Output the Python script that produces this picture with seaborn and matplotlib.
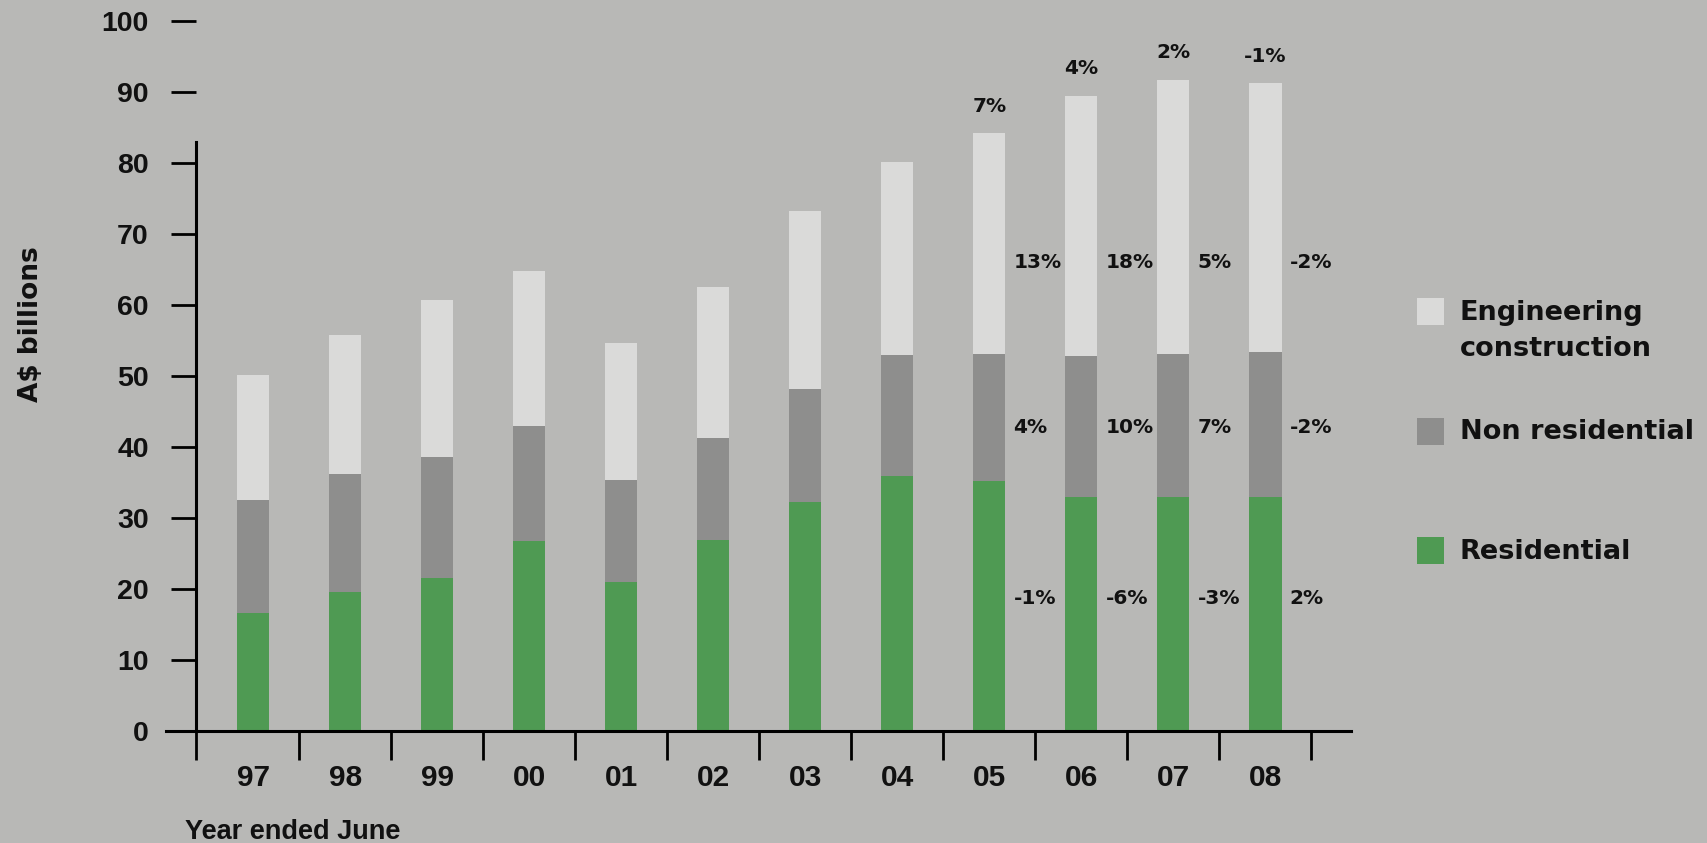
import matplotlib
matplotlib.use("Agg")
import matplotlib.pyplot as plt
from matplotlib.patches import Rectangle
import seaborn as sns
import pandas as pd
import numpy as np

years = ["97", "98", "99", "00", "01", "02", "03", "04", "05", "06", "07", "08"]
residential = [16.6, 19.6, 21.5, 26.7, 21.0, 26.9, 32.3, 35.9, 35.2, 33.0, 32.9, 33.0]
non_residential = [15.9, 16.6, 17.1, 16.2, 14.4, 14.4, 15.9, 17.0, 17.9, 19.8, 20.2, 20.4]
engineering = [17.7, 19.6, 22.1, 21.9, 19.2, 21.2, 25.0, 27.2, 31.1, 36.7, 38.6, 37.8]

pct_years = ["05", "06", "07", "08"]
total_pct = ["7%", "4%", "2%", "-1%"]
eng_pct = ["13%", "18%", "5%", "-2%"]
nonres_pct = ["4%", "10%", "7%", "-2%"]
res_pct = ["-1%", "-6%", "-3%", "2%"]

series_names = ["Engineering\nconstruction", "Non residential", "Residential"]

BG = "#b8b8b6"
C_ENG = "#dadad9"
C_NON = "#8e8e8d"
C_RES = "#4f9a53"

sns.set_theme(style="ticks")
plt.rcParams["font.family"] = ["Liberation Sans", "DejaVu Sans"]
WIDE = ["DejaVu Sans"]

df = pd.DataFrame({
    "year": years,
    "res": residential,
    "non": non_residential,
    "eng": engineering,
})
df["mid"] = df["res"] + df["non"]
df["top"] = df["mid"] + df["eng"]

W, H = 1708, 843
fig = plt.figure(figsize=(W / 100, H / 100), dpi=100, facecolor=BG)
ax = fig.add_axes([166 / W, (H - 731) / H, (1351 - 166) / W, 710 / H])
ax.set_facecolor(BG)

bw = 0.35
sns.barplot(data=df, x="year", y="top", color=C_ENG, width=bw, saturation=1, ax=ax, linewidth=0)
sns.barplot(data=df, x="year", y="mid", color=C_NON, width=bw, saturation=1, ax=ax, linewidth=0)
sns.barplot(data=df, x="year", y="res", color=C_RES, width=bw, saturation=1, ax=ax, linewidth=0)

x_spine = -0.62
ax.set_xlim(-0.947, 11.93)
ax.set_ylim(0, 100)

# spines
for s in ["top", "right"]:
    ax.spines[s].set_visible(False)
ax.spines["left"].set_position(("data", x_spine))
ax.spines["left"].set_bounds(0, 83)
ax.spines["left"].set_linewidth(2.2)
ax.spines["bottom"].set_linewidth(2.2)
ax.spines["left"].set_color("black")
ax.spines["bottom"].set_color("black")

# y ticks
ax.set_yticks(np.arange(0, 101, 10))
ax.tick_params(axis="y", direction="out", length=18, width=2.0, pad=16,
               labelsize=20.5, color="black", labelcolor="#111111")
for lab in ax.get_yticklabels():
    lab.set_fontweight("bold")
ax.set_ylabel("A$ billions", fontsize=19, fontweight="bold", family=WIDE,
              labelpad=0, color="#111111")
ax.yaxis.set_label_coords(-0.103, 0.573)

# x ticks: labels at bar centres, marks between bars
ax.set_xticks(np.arange(len(years)))
ax.set_xticklabels(years)
ax.set_xticks([x_spine] + list(np.arange(0.5, len(years), 1.0)), minor=True)
ax.tick_params(axis="x", which="major", length=0, pad=24, labelsize=21.5, labelcolor="#111111")
ax.tick_params(axis="x", which="minor", direction="out", length=21, width=2.0, color="black")
for lab in ax.get_xticklabels():
    lab.set_fontweight("bold")
ax.set_xlabel("")
fig.text(185 / W, 1 - 832 / H, "Year ended June", fontsize=19.5, fontweight="bold",
         ha="left", va="center", color="#111111")

# percentage annotations
pos = {y: i for i, y in enumerate(years)}
pkw = dict(fontsize=14.5, fontweight="bold", family=WIDE, color="#111111", va="center")
for k, yr in enumerate(pct_years):
    i = pos[yr]
    top = df.loc[i, "top"]
    ax.text(i, top + 3.8, total_pct[k], ha="center", **pkw)
    xr = i + bw / 2 + 0.087
    ax.text(xr, 66.0, eng_pct[k], ha="left", **pkw)
    ax.text(xr, 42.8, nonres_pct[k], ha="left", **pkw)
    ax.text(xr, 18.7, res_pct[k], ha="left", **pkw)

# legend (manual)
legend_colors = [C_ENG, C_NON, C_RES]
sq_tops = [298, 418, 537]
text_centres = [313, 432, 552]
for name, col, t, tc in zip(series_names, legend_colors, sq_tops, text_centres):
    fig.add_artist(Rectangle((1417 / W, 1 - (t + 27) / H), 27 / W, 27 / H,
                             transform=fig.transFigure, facecolor=col, edgecolor="none"))
    for j, line in enumerate(name.split("\n")):
        fig.text(1460 / W, 1 - (tc + 36 * j) / H, line, fontsize=19.5, fontweight="bold",
                 family=WIDE, ha="left", va="center", color="#111111")

fig.savefig("out.png", dpi=100, facecolor=BG)
